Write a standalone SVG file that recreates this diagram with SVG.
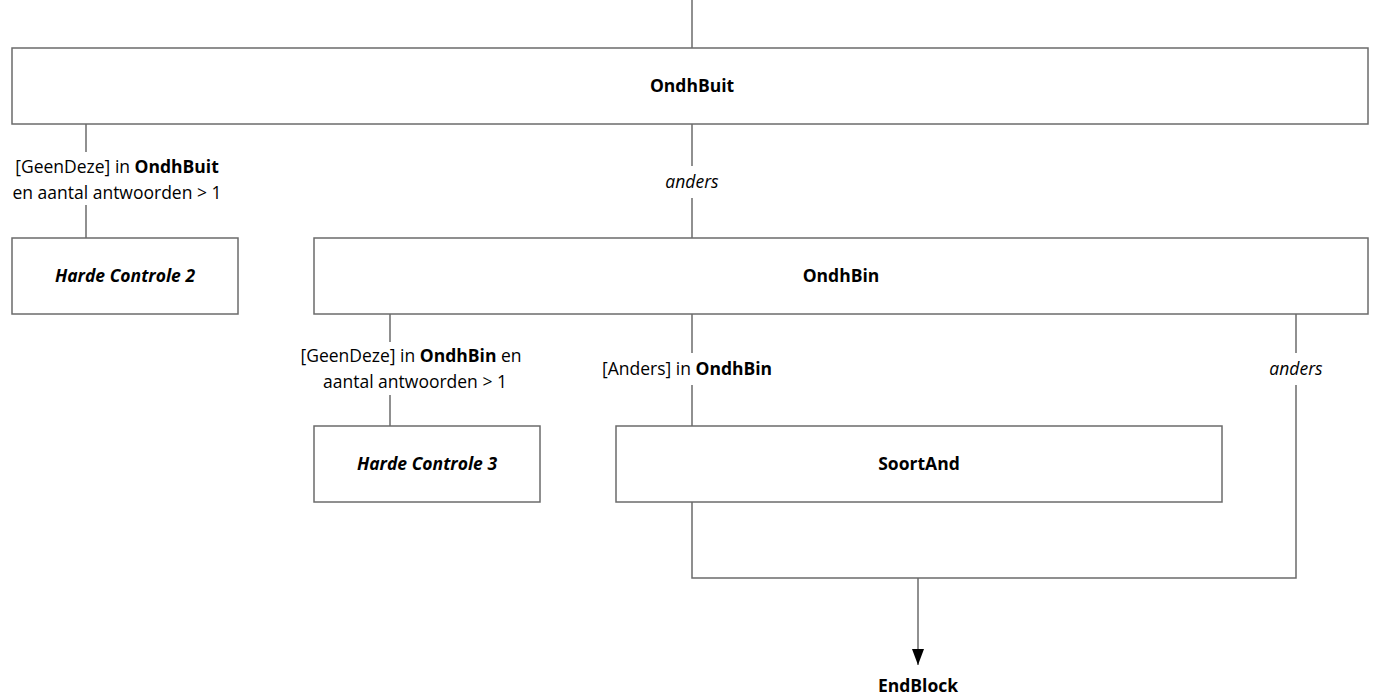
<svg xmlns="http://www.w3.org/2000/svg" width="1380" height="700" viewBox="0 0 1380 700">
<defs>
<style>
.box{fill:#fff;stroke:#6b6b6b;stroke-width:1.5}
.ln{fill:none;stroke:#6b6b6b;stroke-width:1.5}
text{font-family:"Open Sans","Noto Sans",sans-serif;font-size:17.5px;fill:#000;text-anchor:middle}
.b{font-weight:bold}
.i{font-style:italic}
.bi{font-weight:bold;font-style:italic}
</style>
<marker id="arrow" markerWidth="16" markerHeight="12" refX="16" refY="6" orient="auto" markerUnits="userSpaceOnUse">
<path d="M0,0 L16,6 L0,12 Z" fill="#000"/>
</marker>
</defs>
<g id="connectors">
<line class="ln" x1="692" y1="0" x2="692" y2="48"/>
<line class="ln" x1="86" y1="124" x2="86" y2="152"/>
<line class="ln" x1="86" y1="205" x2="86" y2="238"/>
<line class="ln" x1="692" y1="124" x2="692" y2="166"/>
<line class="ln" x1="692" y1="198" x2="692" y2="238"/>
<line class="ln" x1="390" y1="314" x2="390" y2="342"/>
<line class="ln" x1="390" y1="395" x2="390" y2="426"/>
<line class="ln" x1="692" y1="314" x2="692" y2="353"/>
<line class="ln" x1="692" y1="385" x2="692" y2="426"/>
<line class="ln" x1="1296" y1="314" x2="1296" y2="353"/>
<polyline class="ln" points="1296,385 1296,578 692,578 692,502"/>
<line class="ln" x1="918" y1="578" x2="918" y2="665" marker-end="url(#arrow)"/>
<text x="117" y="173">[GeenDeze] in <tspan class="b">OndhBuit</tspan></text>
<text x="117" y="199">en aantal antwoorden &gt; 1</text>
<text class="i" x="692" y="188">anders</text>
<text x="411" y="362">[GeenDeze] in <tspan class="b">OndhBin</tspan> en</text>
<text x="415" y="388">aantal antwoorden &gt; 1</text>
<text x="687" y="375">[Anders] in <tspan class="b">OndhBin</tspan></text>
<text class="i" x="1296" y="375">anders</text>
</g>
<g id="OndhBuit">
<rect class="box" x="12" y="48" width="1356" height="76"/>
<text class="b" x="692" y="92">OndhBuit</text>
</g>
<g id="HardeControle2">
<rect class="box" x="12" y="238" width="226" height="76"/>
<text class="bi" x="125" y="282">Harde Controle 2</text>
</g>
<g id="OndhBin">
<rect class="box" x="314" y="238" width="1054" height="76"/>
<text class="b" x="841" y="282">OndhBin</text>
</g>
<g id="HardeControle3">
<rect class="box" x="314" y="426" width="226" height="76"/>
<text class="bi" x="427" y="470">Harde Controle 3</text>
</g>
<g id="SoortAnd">
<rect class="box" x="616" y="426" width="606" height="76"/>
<text class="b" x="919" y="470">SoortAnd</text>
</g>
<g id="EndBlock">
<text class="b" x="918" y="692">EndBlock</text>
</g>
</svg>
